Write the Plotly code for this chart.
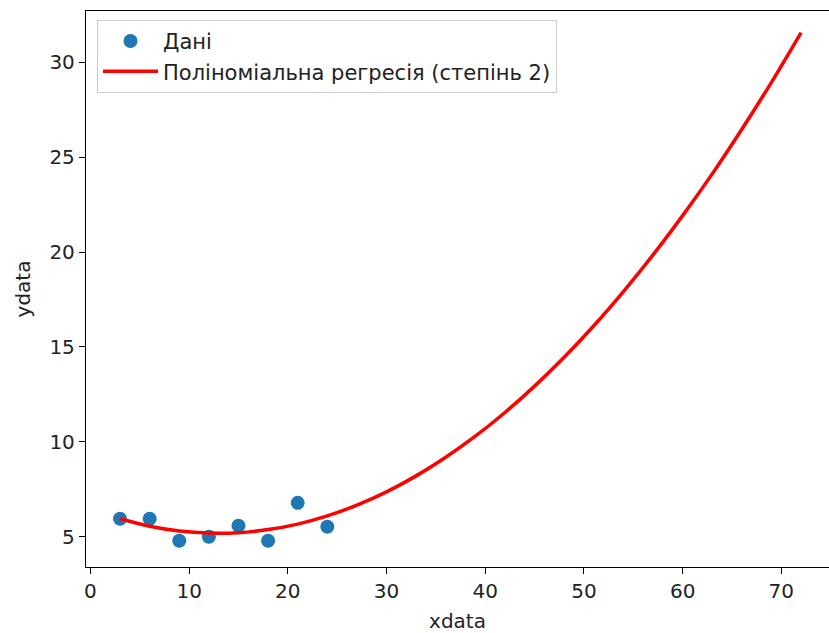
import plotly.graph_objects as go

# Data points
x_data = [3, 6, 9, 12, 15, 18, 21, 24]
y_data = [5.95, 5.95, 4.79, 5.0, 5.58, 4.79, 6.79, 5.53]

# Regression curve values
x_curve = [3, 6, 9, 12, 15, 18, 21, 24, 27, 30, 33, 36, 39, 42, 45, 48,
           51, 54, 57, 60, 63, 66, 69, 72]
y_curve = [5.95, 5.56, 5.31, 5.20, 5.22, 5.38, 5.67, 6.10, 6.67, 7.37,
           8.21, 9.19, 10.30, 11.55, 12.94, 14.46, 16.12, 17.92, 19.85,
           21.92, 24.12, 26.47, 28.94, 31.56]

x_ticks = [0, 10, 20, 30, 40, 50, 60, 70]
y_ticks = [5, 10, 15, 20, 25, 30]

FONT = "DejaVu Sans"
FS = 20
TXT = "#222"

fig = go.Figure()
fig.add_trace(go.Scatter(
    x=x_data, y=y_data, mode="markers", name="Дані",
    marker=dict(color="#1f77b4", size=14, line=dict(width=0)),
))
fig.add_trace(go.Scatter(
    x=x_curve, y=y_curve, mode="lines", name="Поліноміальна регресія (степінь 2)",
    line=dict(color="red", width=3.5, shape="spline"),
))

axis_common = dict(
    showgrid=False, zeroline=False, showline=True, linecolor="black",
    linewidth=1.3, ticks="outside", ticklen=6, tickwidth=1.3,
    tickcolor="black", tickfont=dict(family=FONT, size=FS, color=TXT),
    automargin=False,
)

fig.update_layout(
    width=829, height=633,
    margin=dict(l=86, r=0, t=11, b=65.5),
    plot_bgcolor="white", paper_bgcolor="white",
    font=dict(family=FONT, size=FS, color=TXT),
    showlegend=True,
    legend=dict(
        x=0.0148, y=0.984, xanchor="left", yanchor="top",
        bgcolor="rgba(255,255,255,0.9)", bordercolor="#cccccc", borderwidth=1,
        font=dict(family=FONT, size=21, color=TXT),
        itemwidth=55, tracegroupgap=4,
    ),
    xaxis=dict(
        range=[-0.45, 74.83], tickvals=x_ticks, mirror=True,
        title=dict(text="xdata", font=dict(family=FONT, size=FS, color=TXT), standoff=11),
        **axis_common,
    ),
    yaxis=dict(
        range=[3.41, 32.70], tickvals=y_ticks, mirror=False,
        title=dict(text="ydata", font=dict(family=FONT, size=FS, color=TXT), standoff=13),
        **axis_common,
    ),
)

fig.write_html(
    "out.html",
    config={"displayModeBar": False},
    post_script="document.body.style.margin='0';document.body.style.overflow='hidden';",
)
